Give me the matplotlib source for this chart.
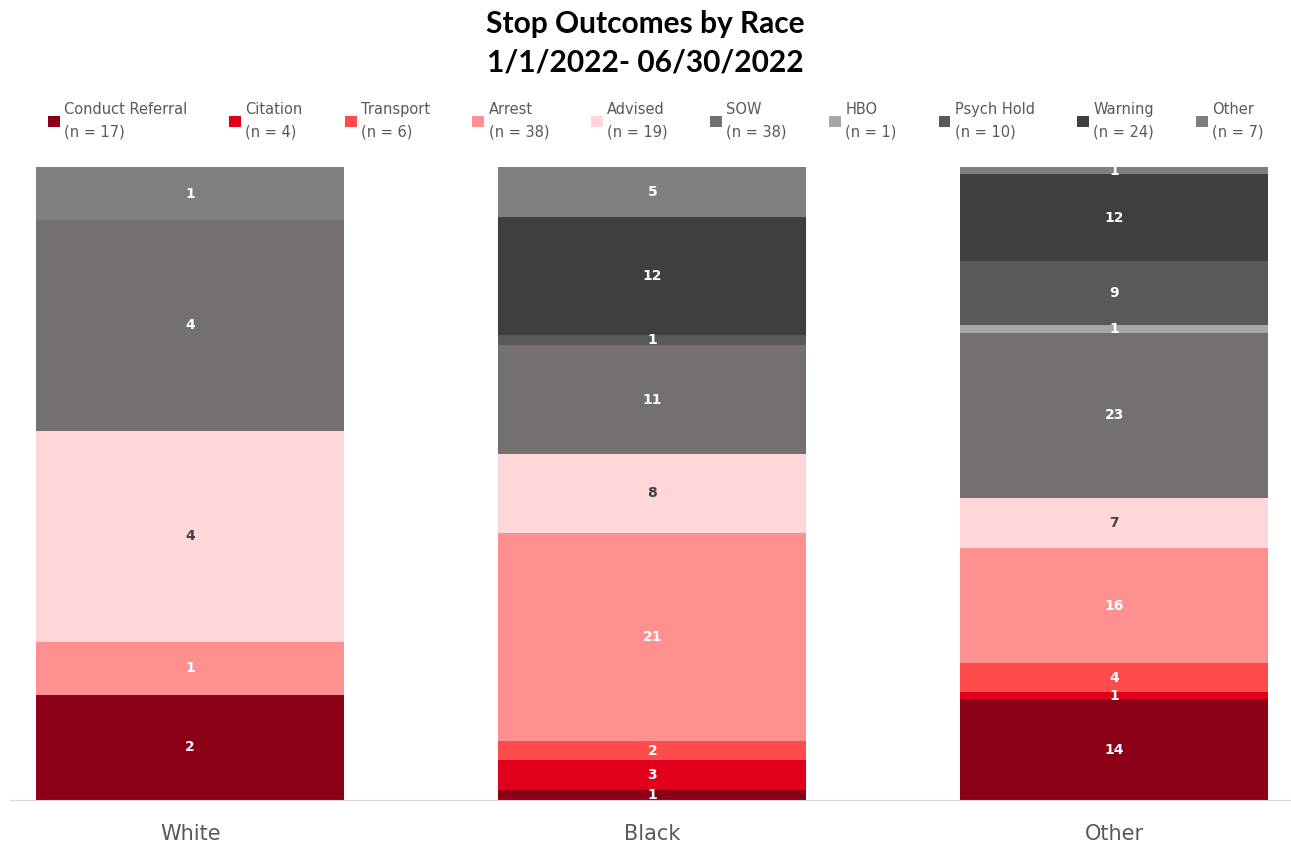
import numpy as np
from matplotlib import pyplot as plt

races = ["White", "Black", "Other"]
outcomes = ["Conduct Referral", "Citation", "Transport", "Arrest", "Advised",
            "SOW", "HBO", "Psych Hold", "Warning", "Other"]
counts = {
    "Conduct Referral": [2, 1, 14],
    "Citation": [0, 3, 1],
    "Transport": [0, 2, 4],
    "Arrest": [1, 21, 16],
    "Advised": [4, 8, 7],
    "SOW": [4, 11, 23],
    "HBO": [0, 0, 1],
    "Psych Hold": [0, 1, 9],
    "Warning": [0, 12, 12],
    "Other": [1, 5, 1],
}
colors = ["#8B0016", "#E0001B", "#FF4B4B", "#FF9090", "#FFD7D9",
          "#757070", "#A6A6A6", "#595959", "#3F3F3F", "#7F7F7F"]

totals = np.sum([counts[o] for o in outcomes], axis=0)

fig = plt.figure(figsize=(12.91, 8.46), dpi=100)
ax = fig.add_axes([0.0077, 0.0544, 0.9915, 0.748])

x = np.arange(len(races))
bottom = np.zeros(len(races))
for name, col in zip(outcomes, colors):
    vals = np.array(counts[name], dtype=float)
    pct = vals / totals * 100
    n = sum(counts[name])
    bars = ax.bar(x, pct, 0.667, bottom=bottom, color=col,
                  label="%s\n(n = %d)" % (name, n))
    labels = [str(v) if v > 0 else "" for v in counts[name]]
    txtcol = "#404040" if name == "Advised" else "white"
    ax.bar_label(bars, labels=labels, label_type="center", color=txtcol,
                 fontsize=10, fontweight="bold", family="DejaVu Sans")
    bottom += pct

ax.set_xlim(-0.39, 2.38)
ax.set_ylim(0, 100)
ax.set_yticks([])
ax.set_xticks(x)
ax.set_xticklabels(races, fontsize=15, color="#595959", family="DejaVu Sans")
ax.tick_params(axis="x", length=0, pad=17)
for s in ["top", "right", "left"]:
    ax.spines[s].set_visible(False)
ax.spines["bottom"].set_color("#D9D9D9")

fig.text(0.5, 0.949, "Stop Outcomes by Race\n1/1/2022- 06/30/2022", ha="center",
         va="center", fontsize=21.5, fontweight="bold", family="Lato",
         linespacing=1.45)

leg = fig.legend(loc="upper center", bbox_to_anchor=(0.508, 0.895), ncol=10,
                 frameon=False, fontsize=10.5, handlelength=0.8, handleheight=0.8,
                 handletextpad=0.3, columnspacing=2.9, labelcolor="#595959")
for t in leg.get_texts():
    t.set_linespacing(1.6)

plt.savefig("out.png")
